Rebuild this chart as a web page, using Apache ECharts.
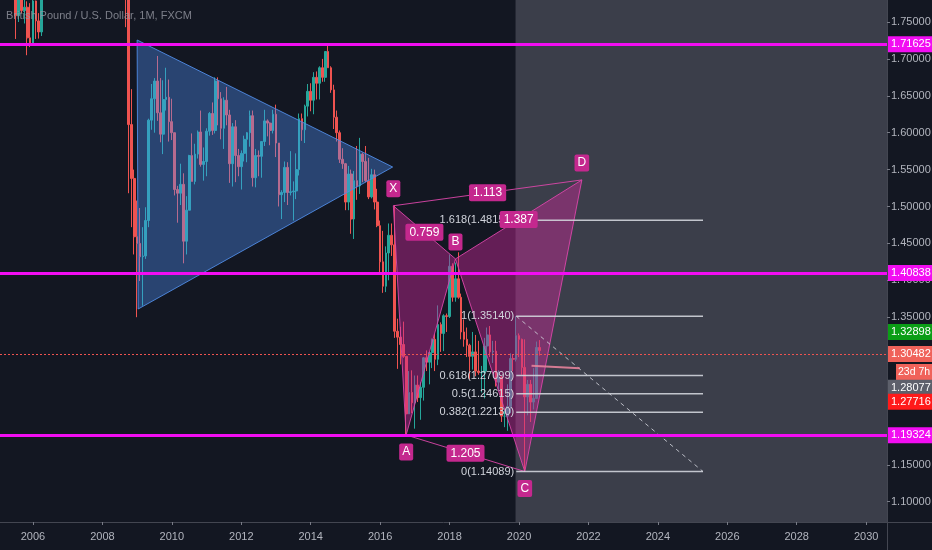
<!DOCTYPE html>
<html><head><meta charset="utf-8">
<script src="https://cdn.jsdelivr.net/npm/echarts@6/dist/echarts.min.js"></script>
<style>html,body{margin:0;padding:0;background:#131722;}#c{width:932px;height:550px;}</style>
</head><body><div id="c"></div>
<script>
const FONT = "'Liberation Sans','Roboto',sans-serif";
const titleText = 'British Pound / U.S. Dollar, 1M, FXCM';

// monthly candles: [month, open, high, low, close]
const candles = [
['2005-01',1.9190,1.9190,1.8580,1.8835],['2005-02',1.8835,1.9260,1.8550,1.9205],['2005-03',1.9205,1.9350,1.8730,1.8880],
['2005-04',1.8880,1.9225,1.8710,1.9115],['2005-05',1.9115,1.9115,1.8180,1.8185],['2005-06',1.8185,1.8360,1.7885,1.7920],
['2005-07',1.7920,1.7980,1.7270,1.7585],['2005-08',1.7585,1.8235,1.7500,1.7995],['2005-09',1.7995,1.8430,1.7620,1.7655],
['2005-10',1.7655,1.7870,1.7480,1.7700],['2005-11',1.7700,1.7780,1.7050,1.7285],['2005-12',1.7285,1.7755,1.7160,1.7205],
['2006-01',1.7205,1.7875,1.7185,1.7785],['2006-02',1.7785,1.7790,1.7270,1.7515],['2006-03',1.7515,1.7620,1.7275,1.7365],
['2006-04',1.7365,1.8270,1.7310,1.8255],['2006-05',1.8255,1.9000,1.8200,1.8715],['2006-06',1.8715,1.8790,1.8085,1.8500],
['2006-07',1.8500,1.8790,1.8150,1.8700],['2006-08',1.8700,1.9130,1.8530,1.8930],['2006-09',1.8930,1.9100,1.8600,1.8720],
['2006-10',1.8720,1.9110,1.8500,1.9090],['2006-11',1.9090,1.9790,1.8970,1.9650],['2006-12',1.9650,1.9850,1.9440,1.9580],
['2007-01',1.9580,1.9850,1.9335,1.9630],['2007-02',1.9630,1.9730,1.9340,1.9660],['2007-03',1.9660,1.9720,1.9190,1.9680],
['2007-04',1.9680,2.0130,1.9660,1.9990],['2007-05',1.9990,2.0000,1.9660,1.9800],['2007-06',1.9800,2.0070,1.9630,2.0070],
['2007-07',2.0070,2.0660,2.0050,2.0310],['2007-08',2.0310,2.0420,1.9660,2.0130],['2007-09',2.0130,2.0450,1.9900,2.0450],
['2007-10',2.0450,2.0800,2.0250,2.0800],['2007-11',2.0800,2.1160,2.0500,2.0600],['2007-12',2.0600,2.0640,1.9750,1.9860],
['2008-01',1.9860,1.9990,1.9350,1.9880],['2008-02',1.9880,1.9930,1.9370,1.9850],['2008-03',1.9850,2.0400,1.9650,1.9850],
['2008-04',1.9850,1.9960,1.9520,1.9850],['2008-05',1.9850,1.9920,1.9400,1.9790],['2008-06',1.9790,1.9980,1.9350,1.9920],
['2008-07',1.9920,2.0070,1.9700,1.9840],['2008-08',1.9840,1.9880,1.8180,1.8210],['2008-09',1.8210,1.8710,1.7430,1.7840],
['2008-10',1.7840,1.7930,1.5180,1.6110],['2008-11',1.6110,1.6590,1.4720,1.5380],['2008-12',1.5380,1.5500,1.4350,1.4590],
['2009-01',1.4590,1.5080,1.3500,1.4500],['2009-02',1.4500,1.4980,1.3990,1.4320],['2009-03',1.4320,1.4720,1.3655,1.4330],
['2009-04',1.4330,1.4990,1.4290,1.4810],['2009-05',1.4810,1.6190,1.4720,1.6170],['2009-06',1.6170,1.6660,1.6040,1.6460],
['2009-07',1.6460,1.6740,1.6000,1.6700],['2009-08',1.6700,1.7040,1.6160,1.6270],['2009-09',1.6270,1.6740,1.5870,1.5980],
['2009-10',1.5980,1.6710,1.5710,1.6450],['2009-11',1.6450,1.6880,1.6300,1.6480],['2009-12',1.6480,1.6720,1.5880,1.6150],
['2010-01',1.6150,1.6460,1.5900,1.6000],['2010-02',1.6000,1.6000,1.5150,1.5230],['2010-03',1.5230,1.5280,1.4780,1.5180],
['2010-04',1.5180,1.5580,1.5020,1.5300],['2010-05',1.5300,1.5450,1.4230,1.4530],['2010-06',1.4530,1.5140,1.4350,1.4950],
['2010-07',1.4950,1.5700,1.4950,1.5690],['2010-08',1.5690,1.5990,1.5340,1.5340],['2010-09',1.5340,1.5850,1.5300,1.5710],
['2010-10',1.5710,1.6030,1.5650,1.6010],['2010-11',1.6010,1.6300,1.5540,1.5570],['2010-12',1.5570,1.5800,1.5350,1.5610],
['2011-01',1.5610,1.6060,1.5410,1.6020],['2011-02',1.6020,1.6280,1.5960,1.6260],['2011-03',1.6260,1.6410,1.5970,1.6030],
['2011-04',1.6030,1.6750,1.5990,1.6700],['2011-05',1.6700,1.6750,1.6100,1.6460],['2011-06',1.6460,1.6550,1.5910,1.6060],
['2011-07',1.6060,1.6480,1.5780,1.6440],['2011-08',1.6440,1.6620,1.6100,1.6240],['2011-09',1.6240,1.6310,1.5320,1.5580],
['2011-10',1.5580,1.6130,1.5270,1.6080],['2011-11',1.6080,1.6170,1.5330,1.5690],['2011-12',1.5690,1.5780,1.5410,1.5540],
['2012-01',1.5540,1.5760,1.5230,1.5720],['2012-02',1.5720,1.5960,1.5610,1.5910],['2012-03',1.5910,1.6010,1.5600,1.6000],
['2012-04',1.6000,1.6300,1.5810,1.6230],['2012-05',1.6230,1.6300,1.5270,1.5390],['2012-06',1.5390,1.5780,1.5260,1.5690],
['2012-07',1.5690,1.5760,1.5410,1.5680],['2012-08',1.5680,1.5880,1.5390,1.5880],['2012-09',1.5880,1.6310,1.5820,1.6160],
['2012-10',1.6160,1.6180,1.5950,1.6130],['2012-11',1.6130,1.6140,1.5830,1.6030],['2012-12',1.6030,1.6310,1.5990,1.6250],
['2013-01',1.6250,1.6380,1.5670,1.5860],['2013-02',1.5860,1.5860,1.5000,1.5160],['2013-03',1.5160,1.5220,1.4830,1.5190],
['2013-04',1.5190,1.5610,1.5060,1.5530],['2013-05',1.5530,1.5600,1.5020,1.5190],['2013-06',1.5190,1.5750,1.5150,1.5200],
['2013-07',1.5200,1.5340,1.4810,1.5210],['2013-08',1.5210,1.5720,1.5100,1.5500],['2013-09',1.5500,1.6260,1.5420,1.6190],
['2013-10',1.6190,1.6260,1.5890,1.6040],['2013-11',1.6040,1.6380,1.5860,1.6360],['2013-12',1.6360,1.6660,1.6220,1.6560],
['2014-01',1.6560,1.6670,1.6290,1.6440],['2014-02',1.6440,1.6820,1.6250,1.6750],['2014-03',1.6750,1.6830,1.6450,1.6670],
['2014-04',1.6670,1.6900,1.6450,1.6880],['2014-05',1.6880,1.7000,1.6690,1.6750],['2014-06',1.6750,1.7100,1.6690,1.7100],
['2014-07',1.7100,1.7190,1.6880,1.6880],['2014-08',1.6880,1.6900,1.6540,1.6580],['2014-09',1.6580,1.6650,1.6050,1.6210],
['2014-10',1.6210,1.6300,1.5880,1.6000],['2014-11',1.6000,1.6030,1.5590,1.5640],['2014-12',1.5640,1.5790,1.5510,1.5580],
['2015-01',1.5580,1.5590,1.4950,1.5060],['2015-02',1.5060,1.5550,1.4950,1.5440],['2015-03',1.5440,1.5500,1.4630,1.4830],
['2015-04',1.4830,1.5480,1.4560,1.5350],['2015-05',1.5350,1.5820,1.5090,1.5280],['2015-06',1.5280,1.5930,1.5170,1.5710],
['2015-07',1.5710,1.5730,1.5330,1.5610],['2015-08',1.5610,1.5820,1.5330,1.5350],['2015-09',1.5350,1.5660,1.5100,1.5130],
['2015-10',1.5130,1.5510,1.5110,1.5430],['2015-11',1.5430,1.5500,1.4960,1.5060],['2015-12',1.5060,1.5240,1.4720,1.4740],
['2016-01',1.4740,1.4810,1.4080,1.4250],['2016-02',1.4250,1.4670,1.3830,1.3920],['2016-03',1.3920,1.4460,1.3840,1.4370],
['2016-04',1.4370,1.4770,1.4000,1.4610],['2016-05',1.4610,1.4770,1.4330,1.4480],['2016-06',1.4480,1.5020,1.3220,1.3310],
['2016-07',1.3310,1.3480,1.2800,1.3230],['2016-08',1.3230,1.3370,1.2860,1.3130],['2016-09',1.3130,1.3440,1.2950,1.2970],
['2016-10',1.2970,1.2970,1.1910,1.2190],['2016-11',1.2190,1.2770,1.2190,1.2480],['2016-12',1.2480,1.2780,1.2200,1.2340],
['2017-01',1.2340,1.2710,1.1990,1.2580],['2017-02',1.2580,1.2710,1.2350,1.2410],['2017-03',1.2410,1.2620,1.2110,1.2550],
['2017-04',1.2550,1.2960,1.2370,1.2950],['2017-05',1.2950,1.3050,1.2770,1.2890],['2017-06',1.2890,1.3030,1.2590,1.3020],
['2017-07',1.3020,1.3210,1.2810,1.3200],['2017-08',1.3200,1.3270,1.2770,1.2930],['2017-09',1.2930,1.3660,1.2850,1.3400],
['2017-10',1.3400,1.3430,1.3030,1.3280],['2017-11',1.3280,1.3540,1.3040,1.3520],['2017-12',1.3520,1.3550,1.3300,1.3510],
['2018-01',1.3510,1.4350,1.3490,1.4190],['2018-02',1.4190,1.4230,1.3710,1.3770],['2018-03',1.3770,1.4240,1.3710,1.4020],
['2018-04',1.4020,1.4380,1.3750,1.3770],['2018-05',1.3770,1.3820,1.3200,1.3300],['2018-06',1.3300,1.3470,1.3100,1.3200],
['2018-07',1.3200,1.3360,1.2960,1.3120],['2018-08',1.3120,1.3140,1.2660,1.2970],['2018-09',1.2970,1.3300,1.2790,1.3030],
['2018-10',1.3030,1.3260,1.2700,1.2770],['2018-11',1.2770,1.3180,1.2720,1.2750],['2018-12',1.2750,1.2840,1.2480,1.2750],
['2019-01',1.2750,1.3220,1.2400,1.3110],['2019-02',1.3110,1.3360,1.2770,1.3260],['2019-03',1.3260,1.3380,1.2960,1.3030],
['2019-04',1.3030,1.3180,1.2880,1.3040],['2019-05',1.3040,1.3180,1.2560,1.2620],['2019-06',1.2620,1.2780,1.2500,1.2690],
['2019-07',1.2690,1.2700,1.2080,1.2160],['2019-08',1.2160,1.2250,1.2010,1.2160],['2019-09',1.2160,1.2590,1.1960,1.2290],
['2019-10',1.2290,1.3010,1.2200,1.2940],['2019-11',1.2940,1.3000,1.2770,1.2930],['2019-12',1.2930,1.3514,1.2900,1.3250],
['2020-01',1.3250,1.3280,1.2960,1.3200],['2020-02',1.3200,1.3210,1.2720,1.2820],['2020-03',1.2820,1.3200,1.14089,1.2420],
['2020-04',1.2420,1.2650,1.2170,1.2590],['2020-05',1.2590,1.2650,1.2080,1.2350],['2020-06',1.2350,1.2810,1.2250,1.2400],
['2020-07',1.2400,1.3170,1.2390,1.3090],['2020-08',1.3090,1.3190,1.2980,1.30482]
];

const yearTicks = [2006,2008,2010,2012,2014,2016,2018,2020,2022,2024,2026,2028,2030];
const priceTicks = [1.10,1.15,1.35,1.40,1.45,1.50,1.55,1.60,1.65,1.70,1.75];

// blue triangle drawing
const triX = [2009.00, 2016.36, 2009.03];
const triY = [1.7256, 1.5535, 1.3611];

// XABCD harmonic pattern
const patNames = ['X','A','B','C','D'];
const patX = [2016.38, 2016.75, 2018.17, 2020.167, 2021.81];
const patY = [1.5010, 1.1904, 1.4290, 1.14089, 1.5360];
const ratioPairs = [[0,2],[1,3],[2,4],[0,4]];
const ratioText = ['0.759','1.205','1.387','1.113'];

// fib retracement
const fibLevels = [1.618, 1, 0.618, 0.5, 0.382, 0];
const fibPrices = [1.48150, 1.35140, 1.27099, 1.24615, 1.22130, 1.14089];
const fibStart = 2019.92, fibEnd = 2025.30;
const fibHigh = 1.35140, fibLow = 1.14089;

// projection box & small line
const boxStart = 2019.90;
const smallLineX = [2020.36, 2021.75];
const smallLineY = [1.2843, 1.2808];

// horizontal levels and price-scale labels
const hLevels = [1.71625, 1.40838, 1.19324];
const lastPrice = 1.30482;
const countdown = '23d 7h';
const highPrice = 1.32898;
const grayPrice = 1.28077;
const redPrice = 1.27716;

const toYear = s => { const [y, m] = s.split('-').map(Number); return y + (m - 1) / 12; };
const candleData = candles.map(r => [toYear(r[0]), r[1], r[4], r[3], r[2]]);

const chart = echarts.init(document.getElementById('c'), null, {renderer: 'canvas'});

function priceLabel(v, bg, extra) {
  return Object.assign({
    show: true, position: 'end', distance: 1,
    formatter: () => v.toFixed(5),
    color: '#ffffff', backgroundColor: bg, fontFamily: FONT, fontSize: 11,
    padding: [3, 0, 2, 3], width: 41, align: 'left'
  }, extra || {});
}
const HIDDEN_LINE = { color: 'rgba(0,0,0,0)', width: 0 };

const PINK = '#c4288e';
const option = {
  backgroundColor: '#131722',
  animation: false,
  title: { text: titleText, left: 6, top: 10, padding: 0,
    textStyle: { color: 'rgba(150,153,162,0.8)', fontSize: 11, fontWeight: 'normal', fontFamily: FONT } },
  grid: { left: 0, right: 45, top: 0, bottom: 28, containLabel: false, outerBoundsMode: 'none' },
  xAxis: {
    type: 'value', min: 2005.05, max: 2030.6,
    axisLine: { show: true, lineStyle: { color: '#434651' } },
    axisTick: { show: true, customValues: yearTicks, length: 3, lineStyle: { color: '#787b86' } },
    axisLabel: { customValues: yearTicks, formatter: v => String(Math.round(v)), color: '#b2b5be', fontSize: 11, fontFamily: FONT, margin: 9 },
    splitLine: { show: false }
  },
  yAxis: {
    type: 'value', position: 'right', min: 1.0725, max: 1.7798,
    axisLine: { show: true, lineStyle: { color: '#434651' } },
    axisTick: { show: true, customValues: priceTicks, length: 3, lineStyle: { color: '#787b86' } },
    axisLabel: { customValues: priceTicks, formatter: v => v.toFixed(5), color: '#b2b5be', fontSize: 11, fontFamily: FONT, margin: 4 },
    splitLine: { show: false }
  },
  graphic: [
    { type: 'line', shape: { x1: 887, y1: 522.5, x2: 932, y2: 522.5 }, style: { stroke: '#434651', lineWidth: 1 } },
    { type: 'line', shape: { x1: 887.5, y1: 522, x2: 887.5, y2: 550 }, style: { stroke: '#434651', lineWidth: 1 } }
  ],
  series: [
    { // projection box
      type: 'custom', z: 1, silent: true, data: [[boxStart, fibHigh]],
      renderItem: (params, api) => {
        const cs = params.coordSys;
        const x0 = api.coord([api.value(0), fibHigh])[0];
        return { type: 'rect', shape: { x: x0, y: cs.y, width: cs.x + cs.width - x0, height: cs.height },
          style: { fill: 'rgba(120,123,134,0.40)' } };
      }
    },
    {
      type: 'candlestick', z: 2, data: candleData, barWidth: 2.2, clip: true,
      labelLayout: { hideOverlap: false },
      itemStyle: { color: '#26a69a', color0: '#ef5350', borderColor: '#26a69a', borderColor0: '#ef5350', borderWidth: 1 },
      markLine: {
        silent: true, symbol: ['none', 'none'], z: 5, animation: false,
        data: [
          ...hLevels.map(v => ({ yAxis: v, lineStyle: { color: '#f20df2', width: 3, type: 'solid' }, label: priceLabel(v, '#f20df2') })),
          { yAxis: lastPrice, lineStyle: { color: '#ef5350', width: 1, type: [2, 2] }, label: priceLabel(lastPrice, '#f0625a') },
          { yAxis: lastPrice, lineStyle: HIDDEN_LINE, label: priceLabel(lastPrice, '#f0625a', { formatter: () => countdown, offset: [8, 18], width: 34, padding: [3, 0, 2, 2], fontSize: 10.5 }) },
          { yAxis: highPrice, lineStyle: HIDDEN_LINE, label: priceLabel(highPrice, '#0b9e16') },
          { yAxis: grayPrice, lineStyle: HIDDEN_LINE, label: priceLabel(grayPrice, '#5d606b', { offset: [0, 19] }) },
          { yAxis: redPrice, lineStyle: HIDDEN_LINE, label: priceLabel(redPrice, '#ff1a1a', { offset: [0, 33] }) }
        ]
      }
    },
    { // blue triangle
      type: 'custom', z: 3, silent: true, data: [[triX[0], triY[0]]],
      renderItem: (params, api) => ({
        type: 'polygon', shape: { points: triX.map((x, i) => api.coord([x, triY[i]])) },
        style: { fill: 'rgba(80,150,255,0.36)', stroke: 'rgba(80,140,230,0.9)', lineWidth: 1 }
      })
    },
    { // XABCD polygons and lines
      type: 'custom', z: 3, silent: true, data: [[patX[0], patY[0]]],
      renderItem: (params, api) => {
        const P = patX.map((x, i) => api.coord([x, patY[i]]));
        const polyStyle = { fill: 'rgba(200,40,150,0.45)', stroke: 'rgba(220,70,170,0.9)', lineWidth: 1 };
        const ln = (a, b) => ({ type: 'line', shape: { x1: P[a][0], y1: P[a][1], x2: P[b][0], y2: P[b][1] }, style: { stroke: 'rgba(220,70,170,0.9)', lineWidth: 1 } });
        return { type: 'group', children: [
          { type: 'polygon', shape: { points: [P[0], P[1], P[2]] }, style: polyStyle },
          { type: 'polygon', shape: { points: [P[2], P[3], P[4]] }, style: polyStyle },
          ln(0, 4), ln(1, 3)
        ] };
      }
    },
    { // fib retracement levels
      type: 'custom', z: 4, silent: true,
      data: fibLevels.map((l, i) => [fibStart, fibPrices[i], l]),
      renderItem: (params, api) => {
        const y = api.value(1), lvl = api.value(2);
        const p0 = api.coord([fibStart, y]), p1 = api.coord([fibEnd, y]);
        return { type: 'group', children: [
          { type: 'line', shape: { x1: p0[0], y1: p0[1], x2: p1[0], y2: p1[1] }, style: { stroke: 'rgba(209,212,220,0.9)', lineWidth: 1.5 } },
          { type: 'text', x: p0[0] - 2, y: p0[1], style: { text: lvl + '(' + y.toFixed(5) + ')', fill: '#d1d4dc', font: '11px ' + FONT, align: 'right', verticalAlign: 'middle' } }
        ] };
      }
    },
    { // fib trend line + small line
      type: 'custom', z: 4, silent: true, data: [[fibStart, fibHigh]],
      renderItem: (params, api) => {
        const a = api.coord([fibStart, fibHigh]), b = api.coord([fibEnd, fibLow]);
        const c = api.coord([smallLineX[0], smallLineY[0]]), d = api.coord([smallLineX[1], smallLineY[1]]);
        return { type: 'group', children: [
          { type: 'line', shape: { x1: a[0], y1: a[1], x2: b[0], y2: b[1] }, style: { stroke: 'rgba(209,212,220,0.85)', lineWidth: 1, lineDash: [4, 4] } },
          { type: 'line', shape: { x1: c[0], y1: c[1], x2: d[0], y2: d[1] }, style: { stroke: 'rgba(230,130,155,0.9)', lineWidth: 2 } }
        ] };
      }
    },
    { // pattern labels
      type: 'custom', z: 6, silent: true, data: [[patX[0], patY[0]]],
      renderItem: (params, api) => {
        const P = patX.map((x, i) => api.coord([x, patY[i]]));
        const kids = [];
        patNames.forEach((n, i) => {
          const nb = i === 0 ? 1 : i - 1;
          const isHigh = patY[i] > patY[nb];
          kids.push({ type: 'text', x: P[i][0], y: P[i][1] + (isHigh ? -17 : 17),
            style: { text: n, fill: '#ffffff', font: '12px ' + FONT, align: 'center', verticalAlign: 'middle', backgroundColor: PINK, padding: [3, 3, 2, 3], borderRadius: 2 } });
        });
        ratioPairs.forEach((pr, k) => {
          const m = [(P[pr[0]][0] + P[pr[1]][0]) / 2, (P[pr[0]][1] + P[pr[1]][1]) / 2];
          kids.push({ type: 'text', x: m[0], y: m[1],
            style: { text: ratioText[k], fill: '#ffffff', font: '12px ' + FONT, align: 'center', verticalAlign: 'middle', backgroundColor: PINK, padding: [3, 4, 2, 4], borderRadius: 2 } });
        });
        return { type: 'group', children: kids };
      }
    }
  ]
};
chart.setOption(option);
</script>
</body></html>
